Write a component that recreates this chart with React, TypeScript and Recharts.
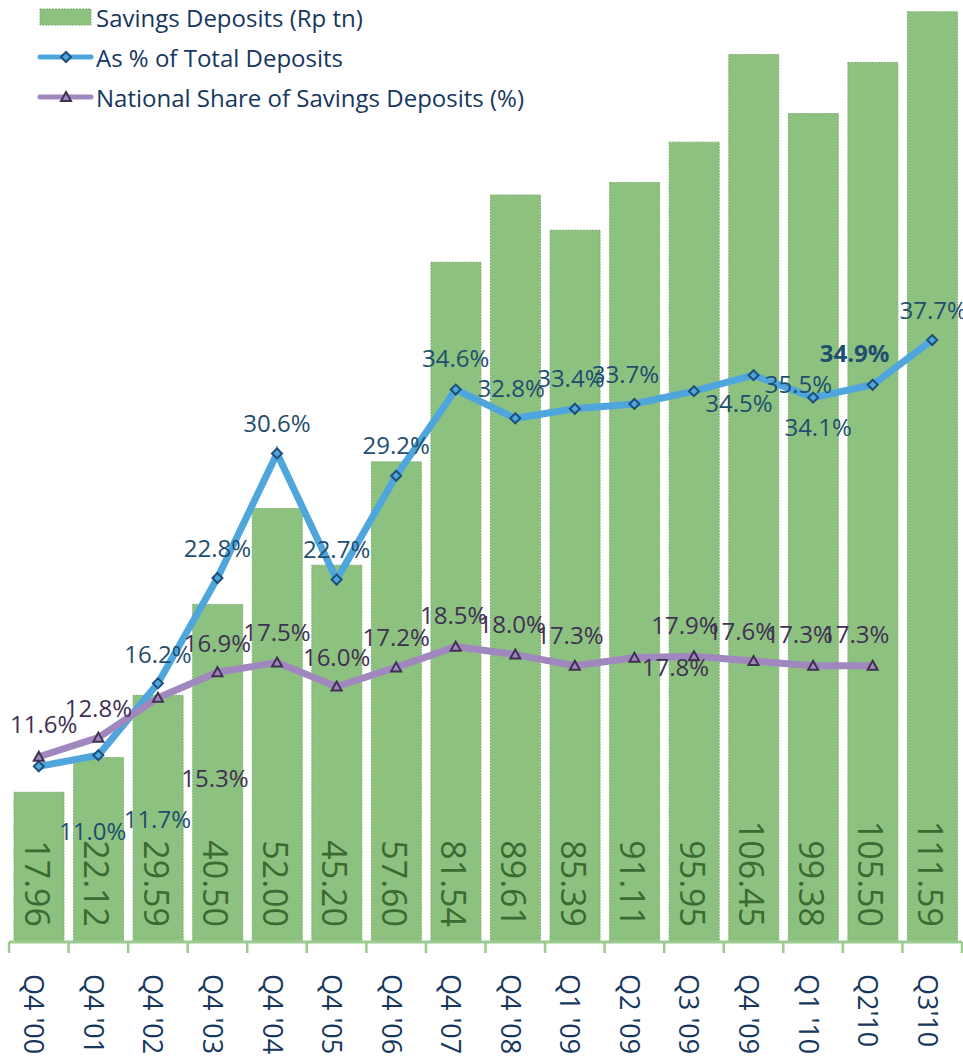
import React from "react";
import {
  Bar,
  ComposedChart,
  LabelList,
  Legend,
  Line,
  XAxis,
  YAxis,
} from "recharts";

const categories = [
  "Q4 '00", "Q4 '01", "Q4 '02", "Q4 '03", "Q4 '04", "Q4 '05", "Q4 '06", "Q4 '07",
  "Q4 '08", "Q1 '09", "Q2 '09", "Q3 '09", "Q4 '09", "Q1 '10", "Q2'10", "Q3'10",
];
const savingsDeposits = [
  17.96, 22.12, 29.59, 40.5, 52.0, 45.2, 57.6, 81.54, 89.61, 85.39, 91.11, 95.95,
  106.45, 99.38, 105.5, 111.59,
];
const shareOfTotal = [
  11.0, 11.7, 16.2, 22.8, 30.6, 22.7, 29.2, 34.6, 32.8, 33.4, 33.7, 34.5, 35.5,
  34.1, 34.9, 37.7,
];
const nationalShare = [
  11.6, 12.8, 15.3, 16.9, 17.5, 16.0, 17.2, 18.5, 18.0, 17.3, 17.8, 17.9, 17.6,
  17.3, 17.3, null,
];

const data = categories.map((quarter, i) => ({
  quarter,
  savings: savingsDeposits[i],
  pctTotal: shareOfTotal[i],
  national: nationalShare[i],
}));

// label nudges (text centre relative to the point), copied from the hand-placed labels
const blueOffsets = [
  [54, 64], [59, 63], [0, -30], [0, -30], [0, -31], [0, -31], [0, -31], [0, -32],
  [-4, -31], [-4, -31], [-9, -30], [45, 11], [45, 8], [5, 29], [-18, -32], [1, -31],
];
const purpleOffsets = [
  [5, -33], [0, -30], [57, 80], [0, -30], [0, -31], [0, -30], [0, -31], [-2, -32],
  [-3, -31], [-5, -31], [41, 9], [-9, -32], [-12, -30], [-14, -32], [-17, -32],
];

const FONT = "'Open Sans', sans-serif";
const TEXT = "#17375E";
const BAR_FILL = "#8DC180";
const BAR_TEXT = "#3B6A32";
const BLUE = "#4EA6DC";
const BLUE_TEXT = "#1F4E6E";
const PURPLE = "#A088BE";
const PURPLE_TEXT = "#403152";
const AXIS_GREEN = "#9CCB90";

const WIDTH = 963;
const HEIGHT = 1061;
const MARGIN = { top: 0, right: 1, bottom: 0, left: 9 };
const BAND = (WIDTH - MARGIN.left - MARGIN.right) / categories.length;

const Diamond = ({ cx, cy }: any) => {
  if (cx == null || cy == null) return null;
  const r = 5;
  return (
    <polygon
      points={`${cx},${cy - r} ${cx + r},${cy} ${cx},${cy + r} ${cx - r},${cy}`}
      fill={BLUE}
      stroke="#1F4E79"
      strokeWidth={2}
    />
  );
};

const Triangle = ({ cx, cy }: any) => {
  if (cx == null || cy == null) return null;
  const r = 5;
  return (
    <polygon
      points={`${cx},${cy - r} ${cx + r},${cy + r * 0.8} ${cx - r},${cy + r * 0.8}`}
      fill={PURPLE}
      stroke={PURPLE_TEXT}
      strokeWidth={2}
    />
  );
};

const QuarterTick = ({ x, y, payload, index }: any) => {
  const last = index === categories.length - 1;
  return (
    <g>
      <line x1={x - BAND / 2} x2={x - BAND / 2} y1={y} y2={y + 11} stroke={AXIS_GREEN} strokeWidth={2.5} />
      {last && (
        <line x1={x + BAND / 2} x2={x + BAND / 2} y1={y} y2={y + 11} stroke={AXIS_GREEN} strokeWidth={2.5} />
      )}
      <text
        transform={`translate(${x - 4},${y + 32}) rotate(90)`}
        textAnchor="start"
        dominantBaseline="central"
        fontSize={27}
        fontFamily={FONT}
        fill={TEXT}
      >
        {payload.value}
      </text>
    </g>
  );
};

const BarValue = ({ x, y, width, height, value }: any) => (
  <text
    transform={`translate(${x + width / 2 - 1.5},${y + height - 15}) rotate(90)`}
    textAnchor="end"
    dominantBaseline="central"
    fontSize={34}
    fontFamily={FONT}
    fill={BAR_TEXT}
  >
    {Number(value).toFixed(2)}
  </text>
);

const makePctLabel = (offsets: number[][], color: string) => (props: any) => {
  const { x, y, value, index } = props;
  if (value == null || x == null || y == null) return null;
  const [dx, dy] = offsets[index] || [0, -30];
  return (
    <text
      x={x + dx}
      y={y + dy}
      textAnchor="middle"
      dominantBaseline="central"
      fontSize={24}
      fontFamily={FONT}
      fontWeight={color === BLUE_TEXT && index === 14 ? 700 : 400}
      fill={color}
    >
      {Number(value).toFixed(1)}%
    </text>
  );
};

const LegendBox = () => (
  <svg width={600} height={115}>
    <g fontFamily={FONT} fontSize={24} fill={TEXT}>
      <rect x={40} y={9} width={51} height={16} fill={BAR_FILL} stroke="#7FAF72" strokeDasharray="2 1" />
      <text x={96} y={17} dominantBaseline="central">Savings Deposits (Rp tn)</text>

      <line x1={40} x2={91} y1={57} y2={57} stroke={BLUE} strokeWidth={5} strokeLinecap="round" />
      <Diamond cx={66} cy={57} />
      <text x={96} y={57} dominantBaseline="central">As % of Total Deposits</text>

      <line x1={40} x2={91} y1={97} y2={97} stroke={PURPLE} strokeWidth={5} strokeLinecap="round" />
      <Triangle cx={66} cy={97} />
      <text x={96} y={97} dominantBaseline="central">National Share of Savings Deposits (%)</text>
    </g>
  </svg>
);

export default function App() {
  return (
    <div style={{ position: "absolute", left: 0, top: 0 }}>
      <ComposedChart width={WIDTH} height={HEIGHT} data={data} margin={MARGIN}>
        <XAxis
          dataKey="quarter"
          height={119}
          interval={0}
          tickLine={false}
          tickSize={0}
          tickMargin={0}
          axisLine={{ stroke: AXIS_GREEN, strokeWidth: 3 }}
          tick={<QuarterTick />}
        />
        <YAxis yAxisId="left" hide domain={[0, 113]} />
        <YAxis yAxisId="right" orientation="right" hide domain={[0, 59]} />
        <Legend
          layout="horizontal"
          verticalAlign="middle"
          align="center"
          wrapperStyle={{ top: 0, left: 0, width: 600 }}
          content={() => <LegendBox />}
        />
        <Bar
          yAxisId="left"
          dataKey="savings"
          fill={BAR_FILL}
          stroke="#7FAF72"
          strokeDasharray="2 1"
          barSize={50}
          isAnimationActive={false}
        >
          <LabelList dataKey="savings" content={<BarValue />} />
        </Bar>
        <Line
          yAxisId="right"
          type="linear"
          dataKey="pctTotal"
          stroke={BLUE}
          strokeWidth={7}
          dot={<Diamond />}
          activeDot={false}
          isAnimationActive={false}
        >
          <LabelList dataKey="pctTotal" content={makePctLabel(blueOffsets, BLUE_TEXT)} />
        </Line>
        <Line
          yAxisId="right"
          type="linear"
          dataKey="national"
          stroke={PURPLE}
          strokeWidth={7}
          dot={<Triangle />}
          activeDot={false}
          isAnimationActive={false}
        >
          <LabelList dataKey="national" content={makePctLabel(purpleOffsets, PURPLE_TEXT)} />
        </Line>
      </ComposedChart>
    </div>
  );
}
